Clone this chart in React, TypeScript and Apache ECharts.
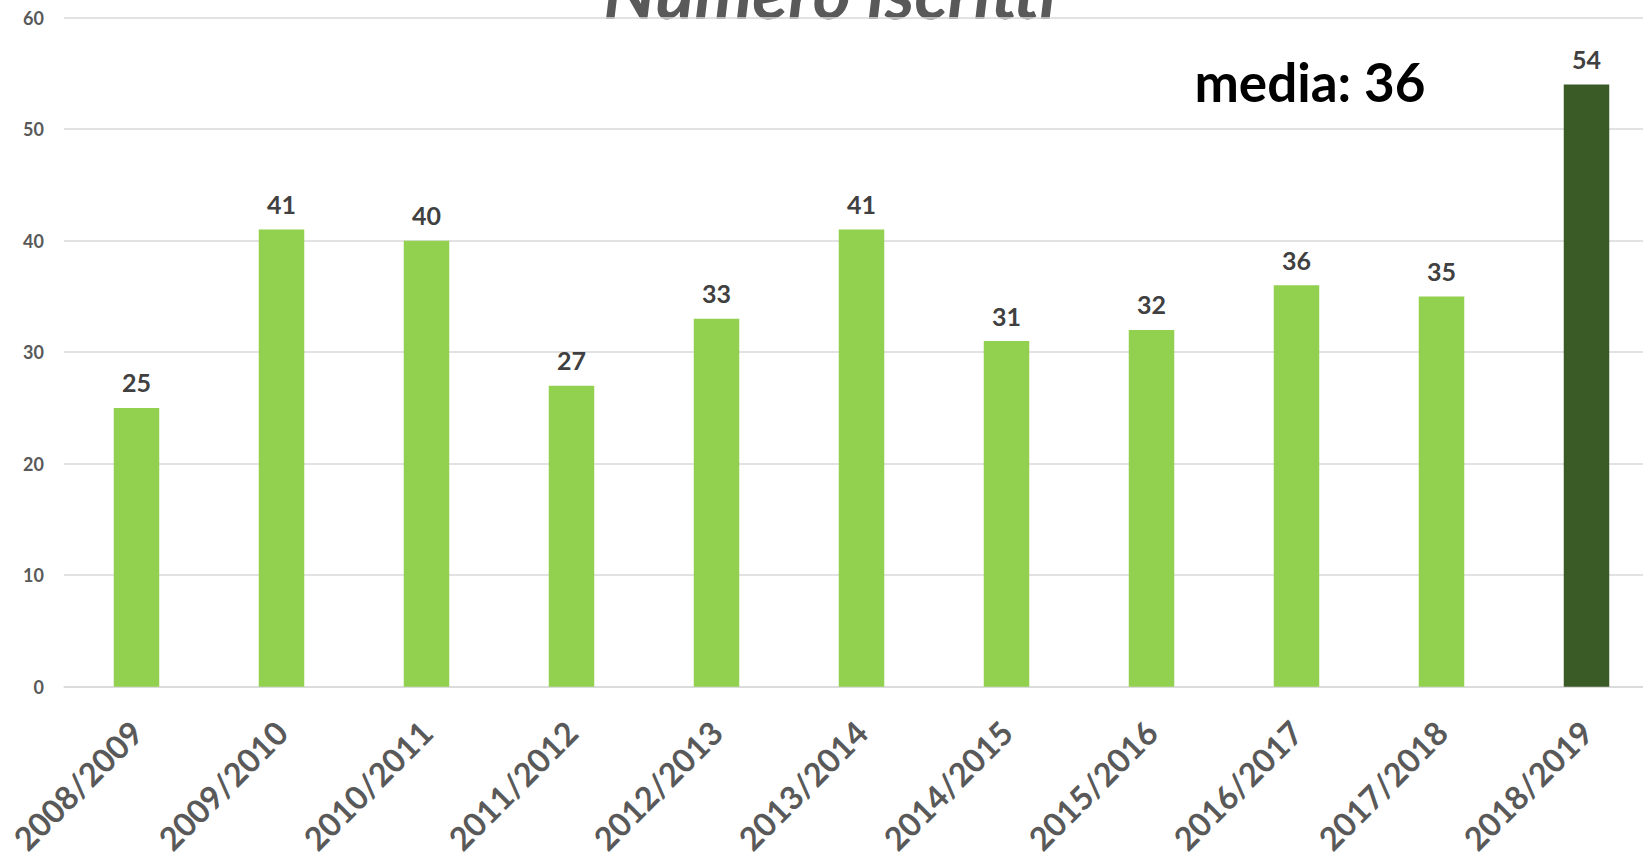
import React, { useEffect, useRef } from "react";
import * as echarts from "echarts";

const categories = [
  "2008/2009", "2009/2010", "2010/2011", "2011/2012", "2012/2013", "2013/2014",
  "2014/2015", "2015/2016", "2016/2017", "2017/2018", "2018/2019",
];
const iscritti = [25, 41, 40, 27, 33, 41, 31, 32, 36, 35, 54];
const highlightIndex = 10;
const yTicks = { min: 0, max: 60, interval: 10 };
const titleText = "Numero iscritti";
const mediaText = "media: 36";

const FONT = "Lato, 'Open Sans', sans-serif";

export default function App() {
  const ref = useRef<HTMLDivElement>(null);
  useEffect(() => {
    if (!ref.current) return;
    const chart = echarts.init(ref.current, undefined, { renderer: "svg" });
    chart.setOption({
      animation: false,
      backgroundColor: "#ffffff",
      grid: {
        left: 64,
        width: 1595,
        top: 17.7,
        bottom: 171.3,
        containLabel: false,
        outerBoundsMode: "none",
      },
      xAxis: {
        type: "category",
        data: categories,
        axisLine: { show: true, lineStyle: { color: "#D9D9D9", width: 1.5 } },
        axisTick: { show: false },
        axisLabel: {
          rotate: 45,
          margin: 40,
          interval: 0,
          color: "#595959",
          fontFamily: FONT,
          fontWeight: "bold",
          fontSize: 32.5,
        },
      },
      yAxis: {
        type: "value",
        min: yTicks.min,
        max: yTicks.max,
        interval: yTicks.interval,
        axisLine: { show: false },
        axisTick: { show: false },
        splitLine: { lineStyle: { color: "#D9D9D9", width: 1.5 } },
        axisLabel: {
          margin: 20,
          color: "#595959",
          fontFamily: FONT,
          fontWeight: "bold",
          fontSize: 18,
        },
      },
      series: [
        {
          type: "bar",
          barWidth: 45.5,
          data: iscritti.map((v, i) => ({
            value: v,
            itemStyle: { color: i === highlightIndex ? "#3A5A26" : "#92D050" },
          })),
          label: {
            show: true,
            position: "top",
            distance: 13,
            color: "#404040",
            fontFamily: FONT,
            fontWeight: "bold",
            fontSize: 25,
          },
        },
      ],
      graphic: [
        {
          type: "text",
          x: 830,
          y: -9.5,
          style: {
            text: titleText,
            fill: "#595959",
            font: `italic bold 73px ${FONT}`,
            align: "center",
            verticalAlign: "middle",
          },
        },
        {
          type: "text",
          x: 1310,
          y: 81,
          style: {
            text: mediaText,
            fill: "#000000",
            font: `bold 53px ${FONT}`,
            align: "center",
            verticalAlign: "middle",
          },
        },
      ],
    });
    return () => chart.dispose();
  }, []);
  return (
    <div
      ref={ref}
      style={{ position: "fixed", left: 0, top: 0, width: 1643, height: 858 }}
    />
  );
}
